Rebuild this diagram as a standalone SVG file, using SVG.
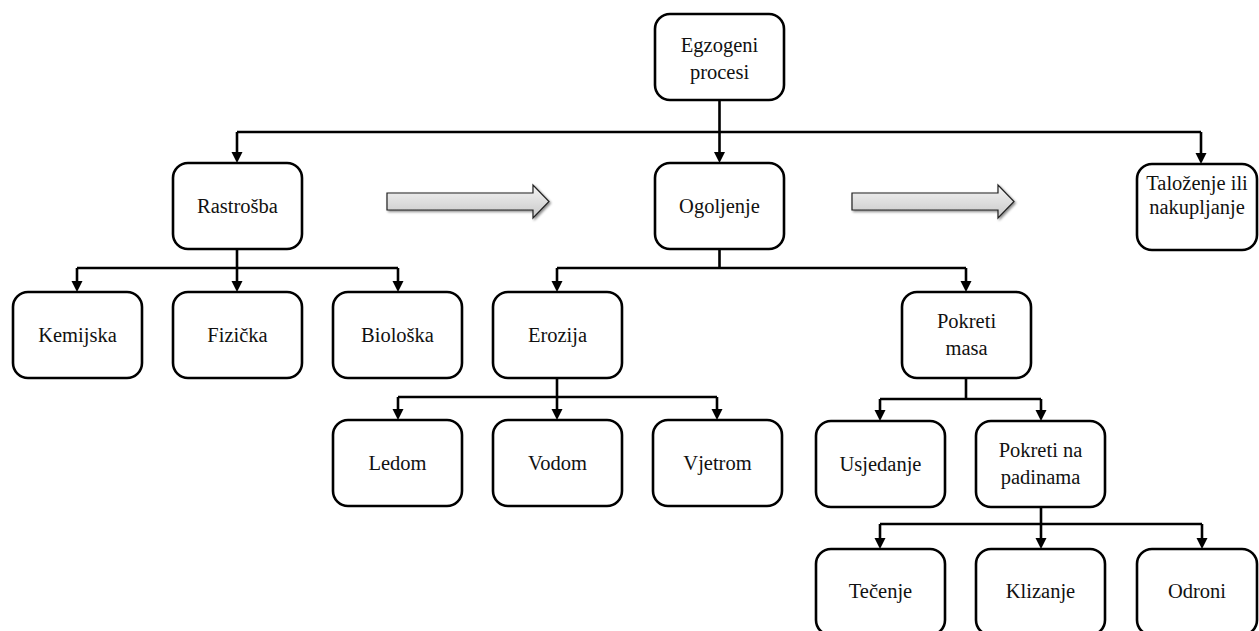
<svg xmlns="http://www.w3.org/2000/svg" width="1259" height="631" viewBox="0 0 1259 631">
<style>
.box{fill:#fff;stroke:#000;stroke-width:2.6}
.lbl{font-family:"Liberation Serif","Times New Roman",serif;font-size:20.5px;fill:#111;text-anchor:middle}
.con{fill:none;stroke:#000;stroke-width:2.6}
.arr{stroke:#000;stroke-width:2.6;fill:none;marker-end:url(#ah)}
.blk{fill:url(#gr);stroke:#222;stroke-width:1.2;filter:url(#sh)}
</style>
<defs>
<marker id="ah" markerUnits="userSpaceOnUse" markerWidth="12" markerHeight="12" viewBox="0 0 12 12" refX="2" refY="5.5" orient="auto">
<path d="M0,0 L11,5.5 L0,11 z" fill="#000"/>
</marker>
<linearGradient id="gr" x1="0" y1="0" x2="0" y2="1">
<stop offset="0" stop-color="#f4f4f4"/>
<stop offset="1" stop-color="#c8c8c8"/>
</linearGradient>
<filter id="sh" x="-10%" y="-30%" width="120%" height="160%">
<feDropShadow dx="1.5" dy="1.5" stdDeviation="1" flood-color="#000" flood-opacity="0.45"/>
</filter>
</defs>
<g id="connectors">
<path class="con" d="M719.5,100 V132 M237,132 H1201 M237,249 V268 M77,268 H398 M719.5,249 V268 M557,268 H966 M557,378 V397 M398,397 H717 M966,378 V399 M880,399 H1041 M1041,507 V524 M880,524 H1202"/>
<path class="arr" d="M719.5,132 V154"/>
<path class="arr" d="M237,132 V154"/>
<path class="arr" d="M1201,132 V155"/>
<path class="arr" d="M77,268 V283"/>
<path class="arr" d="M237,268 V283"/>
<path class="arr" d="M398,268 V283"/>
<path class="arr" d="M557,268 V283"/>
<path class="arr" d="M966,268 V283"/>
<path class="arr" d="M398,397 V411"/>
<path class="arr" d="M557,397 V411"/>
<path class="arr" d="M717,397 V411"/>
<path class="arr" d="M880,399 V412"/>
<path class="arr" d="M1041,399 V412"/>
<path class="arr" d="M880,524 V540"/>
<path class="arr" d="M1041,524 V540"/>
<path class="arr" d="M1202,524 V540"/>
<path class="blk" d="M387,193 H533 V185 L549,201.5 L533,218 V210 H387 Z"/>
<path class="blk" d="M852,193 H998 V185 L1014,201.5 L998,218 V210 H852 Z"/>
</g>
<g id="n-egzogeni"><rect class="box" x="655" y="14" width="129" height="86" rx="15"/><text class="lbl" x="719.5" y="52">Egzogeni</text><text class="lbl" x="719.5" y="79">procesi</text></g>
<g id="n-rastrosba"><rect class="box" x="173" y="163" width="129" height="86" rx="15"/><text class="lbl" x="237.5" y="213">Rastrošba</text></g>
<g id="n-ogoljenje"><rect class="box" x="655" y="163" width="129" height="86" rx="15"/><text class="lbl" x="719.5" y="213">Ogoljenje</text></g>
<g id="n-talozenje"><rect class="box" x="1137" y="164" width="120" height="86" rx="15"/><text class="lbl" x="1197" y="190">Taloženje ili</text><text class="lbl" x="1197" y="214">nakupljanje</text></g>
<g id="n-kemijska"><rect class="box" x="13" y="292" width="129" height="86" rx="15"/><text class="lbl" x="77.5" y="342">Kemijska</text></g>
<g id="n-fizicka"><rect class="box" x="173" y="292" width="129" height="86" rx="15"/><text class="lbl" x="237.5" y="342">Fizička</text></g>
<g id="n-bioloska"><rect class="box" x="333" y="292" width="129" height="86" rx="15"/><text class="lbl" x="397.5" y="342">Biološka</text></g>
<g id="n-erozija"><rect class="box" x="493" y="292" width="129" height="86" rx="15"/><text class="lbl" x="557.5" y="342">Erozija</text></g>
<g id="n-pokreti-masa"><rect class="box" x="902" y="292" width="129" height="86" rx="15"/><text class="lbl" x="966.5" y="328">Pokreti</text><text class="lbl" x="966.5" y="355">masa</text></g>
<g id="n-ledom"><rect class="box" x="333" y="420" width="129" height="86" rx="15"/><text class="lbl" x="397.5" y="470">Ledom</text></g>
<g id="n-vodom"><rect class="box" x="493" y="420" width="129" height="86" rx="15"/><text class="lbl" x="557.5" y="470">Vodom</text></g>
<g id="n-vjetrom"><rect class="box" x="653" y="420" width="129" height="86" rx="15"/><text class="lbl" x="717.5" y="470">Vjetrom</text></g>
<g id="n-usjedanje"><rect class="box" x="816" y="421" width="129" height="86" rx="15"/><text class="lbl" x="880.5" y="471">Usjedanje</text></g>
<g id="n-pokreti-padine"><rect class="box" x="976" y="421" width="129" height="86" rx="15"/><text class="lbl" x="1040.5" y="457">Pokreti na</text><text class="lbl" x="1040.5" y="484">padinama</text></g>
<g id="n-tecenje"><rect class="box" x="816" y="549" width="129" height="86" rx="15"/><text class="lbl" x="880.5" y="598">Tečenje</text></g>
<g id="n-klizanje"><rect class="box" x="976" y="549" width="129" height="86" rx="15"/><text class="lbl" x="1040.5" y="598">Klizanje</text></g>
<g id="n-odroni"><rect class="box" x="1137" y="549" width="120" height="86" rx="15"/><text class="lbl" x="1197" y="598">Odroni</text></g>
</svg>
